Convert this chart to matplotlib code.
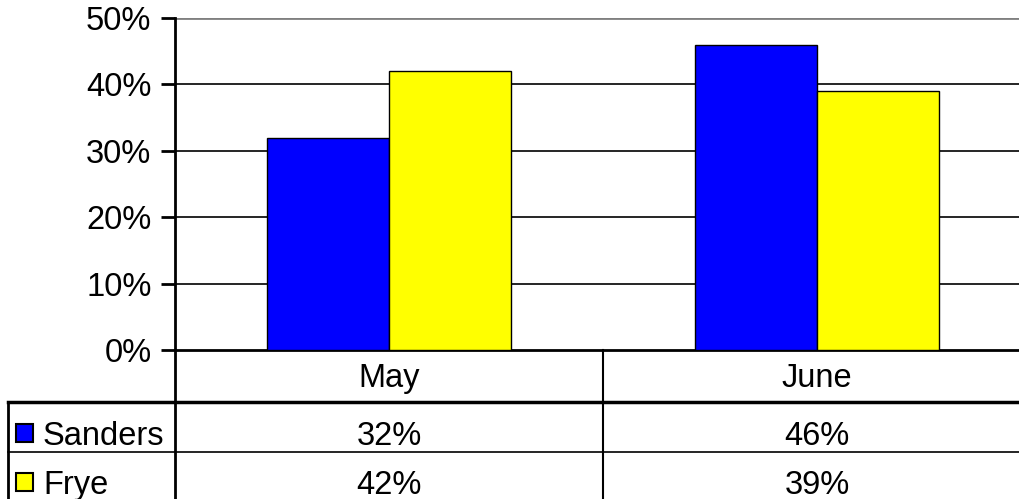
import matplotlib.pyplot as plt
from matplotlib.patches import Rectangle
import matplotlib.transforms as mtransforms

plt.rcParams['font.family'] = ['Liberation Sans', 'DejaVu Sans']

months = ["May", "June"]
series = ["Sanders", "Frye"]
sanders = [32, 46]
frye = [42, 39]
colors = ["#0000FF", "#FFFF00"]
yticks = [0, 10, 20, 30, 40, 50]

W, H = 1020, 499
fig = plt.figure(figsize=(W / 100, H / 100), dpi=100)
# plot area in pixel terms: x 175..1031, y 18..350
ax = fig.add_axes([175 / W, 1 - 350 / H, (1031 - 175) / W, (350 - 18) / H])

bw = 0.286
x = range(len(months))
ax.bar([i - bw / 2 for i in x], sanders, bw, color=colors[0], edgecolor="black", linewidth=1, zorder=3)
ax.bar([i + bw / 2 for i in x], frye, bw, color=colors[1], edgecolor="black", linewidth=1, zorder=3)

ax.set_xlim(-0.5, len(months) - 0.5)
ax.set_ylim(0, 50)
ax.set_yticks(yticks)
ax.set_yticklabels([f"{v}%" for v in yticks], fontsize=23.5)
ax.set_xticks([])
for v in yticks[1:]:
    ax.axhline(v, color="black" if v < 50 else "#808080", lw=1.2 if v < 50 else 2, zorder=1)
for s in ["top", "right"]:
    ax.spines[s].set_visible(False)
ax.spines["left"].set_linewidth(2)
ax.spines["bottom"].set_linewidth(2)
ax.tick_params(axis="y", length=10, width=2, pad=7)

# data table below the axes (positions given as pixel rows of the figure)
yp = lambda p: (350 - p) / (350 - 18)  # pixel row -> axes fraction
tr = mtransforms.blended_transform_factory(ax.transData, ax.transAxes)
left_x = -0.5 - (175 - 8) / 428
bottom = yp(510)

kw = dict(transform=tr, clip_on=False, color="black")
ax.plot([-0.5, -0.5], [0, bottom], lw=2, **kw)
ax.plot([0.5, 0.5], [0, bottom], lw=1.5, **kw)
ax.plot([left_x, left_x], [yp(402), bottom], lw=2, **kw)
ax.plot([left_x, 1.6], [yp(402), yp(402)], lw=2.5, **kw)
ax.plot([left_x, 1.6], [yp(452), yp(452)], lw=1.2, **kw)

for i, m in enumerate(months):
    ax.text(i, yp(387), m, ha="center", va="baseline", fontsize=23.5, transform=tr)

baselines = [445, 494]
for r, (name, vals, c) in enumerate(zip(series, [sanders, frye], colors)):
    yb = yp(baselines[r])
    for i, v in enumerate(vals):
        ax.text(i, yb, f"{v}%", ha="center", va="baseline", fontsize=23.5, transform=tr)
    ax.add_patch(Rectangle((left_x + 8 / 428, yp(baselines[r] - 3)), 17 / 428, yp(0) - yp(18),
                           facecolor=c, edgecolor="black", lw=1.5, transform=tr, clip_on=False))
    ax.text(left_x + 35 / 428, yb, name, ha="left", va="baseline", fontsize=23.5, transform=tr)

plt.savefig("out.png", dpi=100)
